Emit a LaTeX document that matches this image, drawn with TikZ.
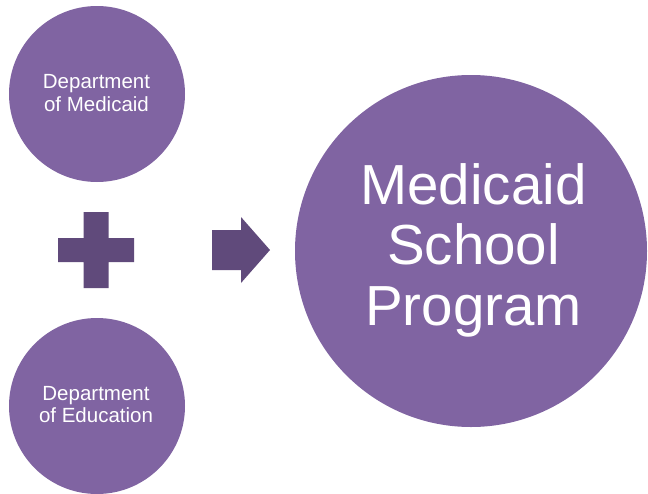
\documentclass[tikz,border=0pt]{standalone}
\usepackage{fontspec}
\setmainfont{Liberation Sans}
\definecolor{bubblefill}{HTML}{8064A2}
\definecolor{darkpurple}{HTML}{604A7B}
\tikzset{
  bubble/.style={circle, fill=bubblefill, draw=none, inner sep=0pt},
  smalltxt/.style={text=white, align=center, inner sep=0pt, font=\fontsize{20.5}{22.7}\selectfont},
  bigtxt/.style={text=white, align=center, inner sep=0pt, font=\fontsize{56.5}{60.5}\selectfont},
  darkshape/.style={fill=darkpurple, draw=none}
}
\begin{document}
\begin{tikzpicture}[x=1pt,y=-1pt]
\useasboundingbox (0,0) rectangle (648,493);
% circles
\node[bubble, minimum size=176pt] (medc) at (97,94) {};
\node[bubble, minimum size=176pt] (educ) at (97,406) {};
\node[bubble, minimum size=352pt] (progc) at (471,251) {};
% texts
\node[smalltxt, anchor=base] (medt) at (96.5,111) {Department\\of Medicaid};
\node[smalltxt, anchor=base] (edut) at (96,422.7) {Department\\of Education};
\node[bigtxt, anchor=base] (progt) at (473.5,325) {Medicaid\\School\\Program};
% plus
\fill[darkshape] (83.5,212) -- (108.5,212) -- (108.5,238) -- (134,238) -- (134,262)
  -- (108.5,262) -- (108.5,288) -- (83.5,288) -- (83.5,262) -- (58,262) -- (58,238)
  -- (83.5,238) -- cycle;
% arrow
\fill[darkshape] (212,230) -- (241,230) -- (241,217) -- (270,250) -- (241,283)
  -- (241,270) -- (212,270) -- cycle;
\end{tikzpicture}
\end{document}
